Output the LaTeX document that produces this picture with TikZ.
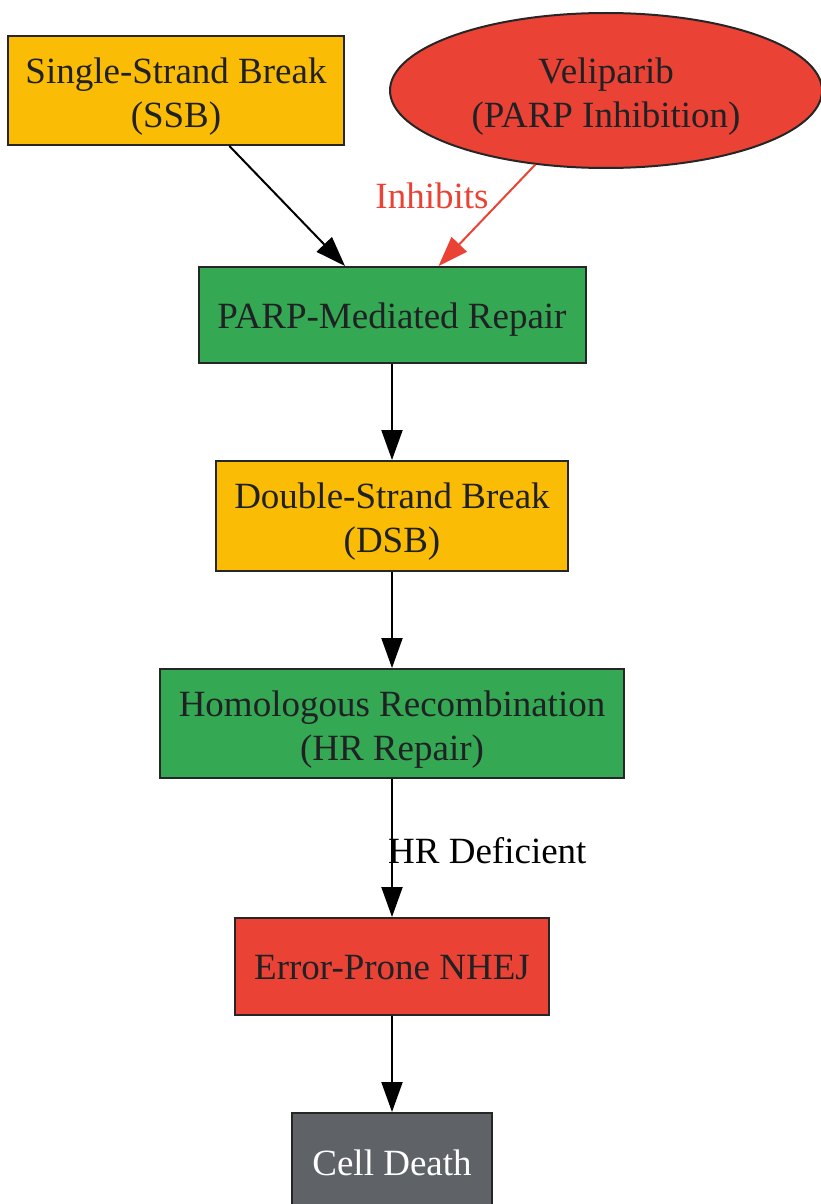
\documentclass[tikz,border=0pt]{standalone}
\usepackage{fontspec}
\setmainfont{Liberation Serif}
\usetikzlibrary{shapes.geometric,arrows.meta}
\definecolor{cyellow}{HTML}{FBBC05}
\definecolor{cgreen}{HTML}{34A853}
\definecolor{cred}{HTML}{EA4335}
\definecolor{cgray}{HTML}{5F6368}
\definecolor{ctext}{HTML}{202124}
\definecolor{cbord}{HTML}{262626}
\newcommand\lowtxt[2][6pt]{\raisebox{-#1}[\height][\depth]{\begin{tabular}{@{}c@{}}#2\end{tabular}}}
\begin{document}
\begin{tikzpicture}[x=1pt,y=-1pt,
  font=\fontsize{37}{44}\selectfont,
  box/.style={draw=cbord, line width=2pt, text=ctext, inner sep=0pt},
  oval/.style={box, ellipse},
  lbl/.style={inner sep=0pt},
  arr/.style={line width=2pt, -{Triangle[length=30pt,width=21pt]}},
  inh/.style={arr, draw=cred, fill=cred}]
\useasboundingbox (0,0) rectangle (820,1204);
\node[box, fill=cyellow, minimum width=336pt, minimum height=109pt] (ssb) at (176,90.5) {\lowtxt{Single-Strand Break\\(SSB)}};
\node[oval, fill=cred, minimum width=432pt, minimum height=155pt] (vel) at (606,90.5) {\lowtxt{Veliparib\\(PARP Inhibition)}};
\node[box, fill=cgreen, minimum width=387pt, minimum height=96pt] (parp) at (392,315) {\lowtxt[4.5pt]{PARP-Mediated Repair}};
\node[box, fill=cyellow, minimum width=352pt, minimum height=110pt] (dsb) at (392,516) {\lowtxt{Double-Strand Break\\(DSB)}};
\node[box, fill=cgreen, minimum width=464pt, minimum height=109pt] (hr) at (392,723.5) {\lowtxt{Homologous Recombination\\(HR Repair)}};
\node[box, fill=cred, minimum width=314pt, minimum height=97pt] (nhej) at (392,966.5) {\lowtxt[4.5pt]{Error-Prone NHEJ}};
\node[box, fill=cgray, text=white, minimum width=200pt, minimum height=97pt] (death) at (392,1161.5) {\lowtxt[5.5pt]{Cell Death}};
\draw[arr] (ssb) -- (parp);
\draw[inh] (vel) -- (parp);
\node[lbl, text=cred] (linh) at (432,196) {Inhibits};
\draw[arr] (parp) -- (dsb);
\draw[arr] (dsb) -- (hr);
\draw[arr] (hr) -- (nhej);
\node[lbl, anchor=west, text=black] (lhr) at (388,851) {HR Deficient};
\draw[arr] (nhej) -- (death);
\end{tikzpicture}
\end{document}
